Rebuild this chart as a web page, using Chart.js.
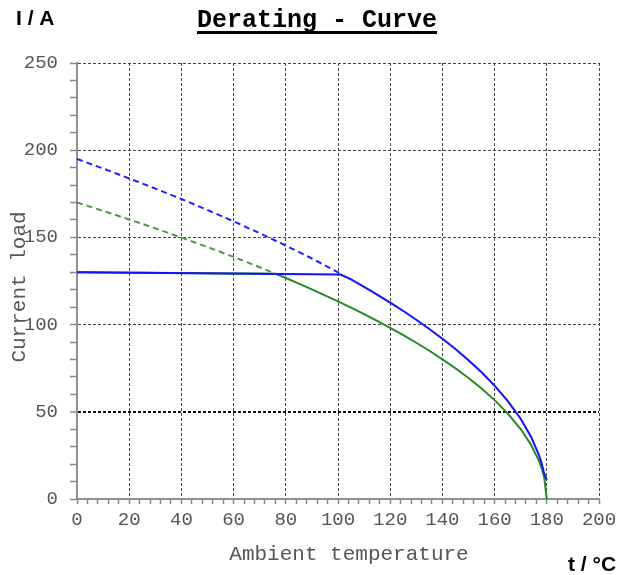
<!DOCTYPE html>
<html>
<head>
<meta charset="utf-8">
<script src="https://cdn.jsdelivr.net/npm/chart.js@4.4.1/dist/chart.umd.min.js"></script>
<style>
  body { margin: 0; background: #fff; }
  #wrap { width: 629px; height: 575px; }
</style>
</head>
<body>
<div id="wrap"><canvas id="deratingChart" width="629" height="575"></canvas></div>
<script>
// values (t in °C, I in A)
const blueDashTemps = [0, 10, 20, 30, 40, 50, 60, 70, 80, 90, 101];
const blueDashVals  = [195, 189.5, 183.8, 178, 172, 165.7, 159.2, 152.4, 145.3, 137.9, 129.2];

const greenDashTemps = [0, 10, 20, 30, 40, 50, 60, 70, 76];
const greenDashVals  = [170, 165.2, 160.3, 155.2, 149.9, 144.5, 138.8, 132.9, 129.2];

const blueTemps = [0, 101, 105, 110, 115, 120, 125, 130, 135, 140, 145, 150, 155, 160, 165, 170, 174, 177, 178, 179, 180];
const blueVals  = [130, 128.7, 125.9, 121.6, 117.2, 112.6, 107.8, 102.8, 97.5, 91.9, 86, 79.6, 72.7, 65, 56.3, 46, 35.6, 25.2, 20.6, 14.5, 11];

const greenTemps = [0, 76, 80, 85, 90, 95, 100, 105, 110, 115, 120, 125, 130, 135, 140, 145, 150, 155, 160, 165, 170, 174, 177, 178, 179, 180];
const greenVals  = [130, 129.2, 126.7, 123.5, 120.2, 116.8, 113.3, 109.7, 106, 102.2, 98.1, 94, 89.6, 85, 80.1, 75, 69.4, 63.4, 56.7, 49.1, 40.1, 31, 21.9, 17.9, 12.7, 0];

const xMax = 200, yMax = 250;
const xLabelStep = 20, yLabelStep = 50;

const toPoints = (xs, ys) => xs.map((x, i) => ({ x: x, y: ys[i] }));

const mono = "'Liberation Mono', 'DejaVu Sans Mono', monospace";
const sans = "'Liberation Sans', Arial, sans-serif";

// titles and unit labels
const extraText = {
  id: 'extraText',
  afterDraw(chart) {
    const c = chart.ctx;
    c.save();
    c.fillStyle = '#000';
    c.font = 'bold 25px ' + mono;
    c.textAlign = 'center';
    c.textBaseline = 'alphabetic';
    const title = 'Derating - Curve';
    c.fillText(title, 317, 27);
    const w = c.measureText(title).width;
    c.fillRect(317 - w / 2, 31, w, 3);

    c.font = 'bold 21px ' + sans;
    c.textAlign = 'left';
    c.fillText('I / A', 16, 25);
    c.fillText('t / °C', 568, 571);

    c.fillStyle = '#555';
    c.font = '21px ' + mono;
    c.textAlign = 'center';
    c.textBaseline = 'middle';
    c.fillText('Ambient temperature', 349, 554);

    c.translate(19, 287);
    c.rotate(-Math.PI / 2);
    c.fillText('Current load', 0, 0);
    c.restore();
  }
};

new Chart(document.getElementById('deratingChart'), {
  type: 'line',
  data: {
    datasets: [
      {
        data: toPoints(greenDashTemps, greenDashVals),
        borderColor: '#4f9a40',
        borderWidth: 2,
        borderDash: [6, 4],
        pointRadius: 0,
        tension: 0
      },
      {
        data: toPoints(blueDashTemps, blueDashVals),
        borderColor: '#1f1fff',
        borderWidth: 2,
        borderDash: [6, 4],
        pointRadius: 0,
        tension: 0
      },
      {
        data: toPoints(blueTemps, blueVals),
        borderColor: '#1010ff',
        borderWidth: 2,
        pointRadius: 0,
        tension: 0
      },
      {
        data: toPoints(greenTemps, greenVals),
        borderColor: '#228a22',
        borderWidth: 2,
        pointRadius: 0,
        tension: 0
      }
    ]
  },
  options: {
    responsive: false,
    animation: false,
    layout: { padding: { top: 63, right: 30, left: 0, bottom: 0 } },
    plugins: {
      legend: { display: false },
      tooltip: { enabled: false }
    },
    scales: {
      x: {
        type: 'linear',
        min: 0,
        max: xMax,
        afterFit(scale) { scale.height = 76; },
        ticks: {
          stepSize: 4,
          autoSkip: false,
          maxRotation: 0,
          padding: 5,
          color: '#555',
          font: { family: mono, size: 19 },
          callback: v => (v % xLabelStep === 0 ? String(v) : '')
        },
        grid: {
          color: ctx => (ctx.tick && ctx.tick.value % xLabelStep === 0 ? '#444' : 'rgba(0,0,0,0)'),
          lineWidth: 1,
          tickLength: 5,
          tickColor: '#888',
          tickWidth: 1.5
        },
        border: { color: '#909090', width: 2, dash: [3, 2] }
      },
      y: {
        min: 0,
        max: yMax,
        afterFit(scale) { scale.width = 77; },
        ticks: {
          stepSize: 10,
          autoSkip: false,
          padding: 12,
          color: '#555',
          font: { family: mono, size: 19 },
          callback: v => (v % yLabelStep === 0 ? String(v) : '')
        },
        grid: {
          color: ctx => {
            if (!ctx.tick || ctx.tick.value % yLabelStep !== 0) return 'rgba(0,0,0,0)';
            return ctx.tick.value === 50 ? '#111' : '#444';
          },
          lineWidth: ctx => (ctx.tick && ctx.tick.value === 50 ? 2 : 1),
          tickLength: 7,
          tickColor: '#888',
          tickWidth: 1.5
        },
        border: { color: '#909090', width: 2, dash: [3, 2] }
      }
    }
  },
  plugins: [extraText]
});
</script>
</body>
</html>
